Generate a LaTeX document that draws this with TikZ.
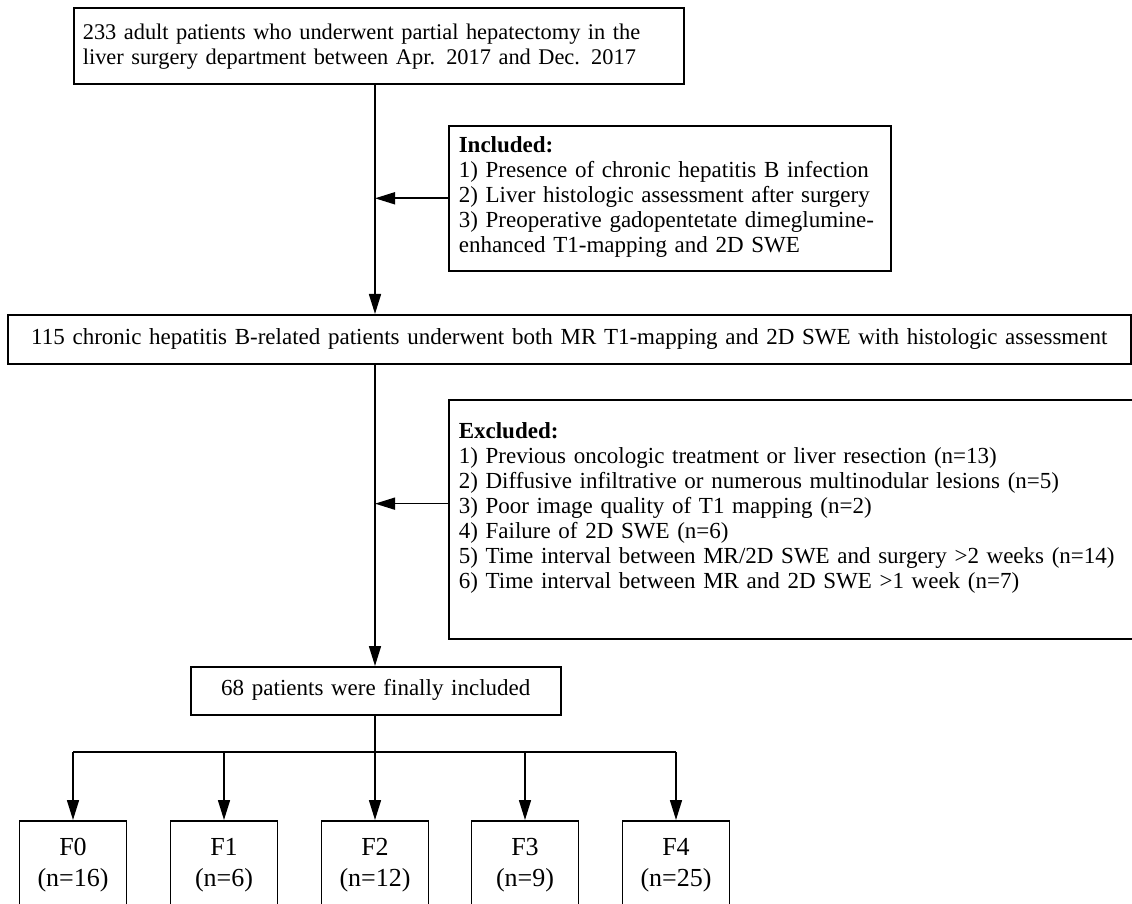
\documentclass[tikz,border=0pt]{standalone}
\usepackage{fontspec}
\setmainfont{Liberation Serif}
\usetikzlibrary{arrows.meta,positioning,calc}

\begin{document}
\begin{tikzpicture}[->,>={Triangle[width=6pt,length=10pt]},line width=0.8pt,
                    x=0.5pt, y=-0.5pt]
  \tikzstyle{box}=[draw,inner sep=0pt,anchor=north west,align=left,
                   font=\fontsize{11.5pt}{12.5pt}\selectfont]
  \tikzstyle{grade}=[draw,inner sep=0pt,anchor=north,align=center,
                     text width=53.5pt,text height=17.5pt,text depth=25.5pt,
                     font=\fontsize{13pt}{15.5pt}\selectfont]

  \useasboundingbox (0,0) rectangle (1132,904);
  \coordinate (spine) at (375,0);

  \node[box, inner xsep=4.5pt, text width=296pt, text height=16pt, text depth=22pt,
        font=\fontsize{11.2pt}{12.5pt}\selectfont]
        (pool) at (73,7) {233 adult patients who underwent partial hepatectomy in the\\
                          liver surgery department between Apr. 2017 and Dec. 2017};
  \node[box, inner xsep=5pt, text width=211pt, text height=13.5pt, text depth=59pt]
        (incl) at (448,125) {\textbf{Included:}\\
                             1) Presence of chronic hepatitis B infection\\
                             2) Liver histologic assessment after surgery\\
                             3) Preoperative gadopentetate dimeglumine-\\
                             enhanced T1-mapping and 2D SWE};
  \node[box, align=center, text width=561.5pt, text height=15pt, text depth=9.5pt]
        (cohort) at (7,314) {115 chronic hepatitis B-related patients underwent both MR T1-mapping and 2D SWE with histologic assessment};
  \node[box, inner xsep=5pt, text width=350pt, text height=19.5pt, text depth=100pt]
        (excl) at (448,399) {\textbf{Excluded:}\\
                             1) Previous oncologic treatment or liver resection (n=13)\\
                             2) Diffusive infiltrative or numerous multinodular lesions (n=5)\\
                             3) Poor image quality of T1 mapping (n=2)\\
                             4) Failure of 2D SWE (n=6)\\
                             5) Time interval between MR/2D SWE and surgery >2 weeks (n=14)\\
                             6) Time interval between MR and 2D SWE >1 week (n=7)};
  \node[box, align=center, text width=185pt, text height=14.5pt, text depth=9.5pt]
        (final) at (190,666) {68 patients were finally included};

  \coordinate (branch) at (375,752);
  \foreach \g/\cnt/\x in {0/16/73,1/6/224,2/12/375,3/9/525,4/25/676}
    \node[grade] (F\g) at (\x,820) {F\g\\(n=\cnt)};

  % main flow
  \draw (pool.south -| spine) -- (cohort.north -| spine);
  \draw (incl.west) -- (incl.west -| spine);
  \draw (cohort.south -| spine) -- (final.north -| spine);
  \coordinate (exclout) at ($(excl.north west)!0.435!(excl.south west)$);
  \draw (exclout) -- (exclout -| spine);

  % split by fibrosis stage
  \draw[-] (final.south -| spine) -- (branch);
  \draw[-] (F0.north |- branch) -- (F4.north |- branch);
  \foreach \g in {0,...,4}
    \draw (F\g.north |- branch) -- (F\g.north);
\end{tikzpicture}
\end{document}
